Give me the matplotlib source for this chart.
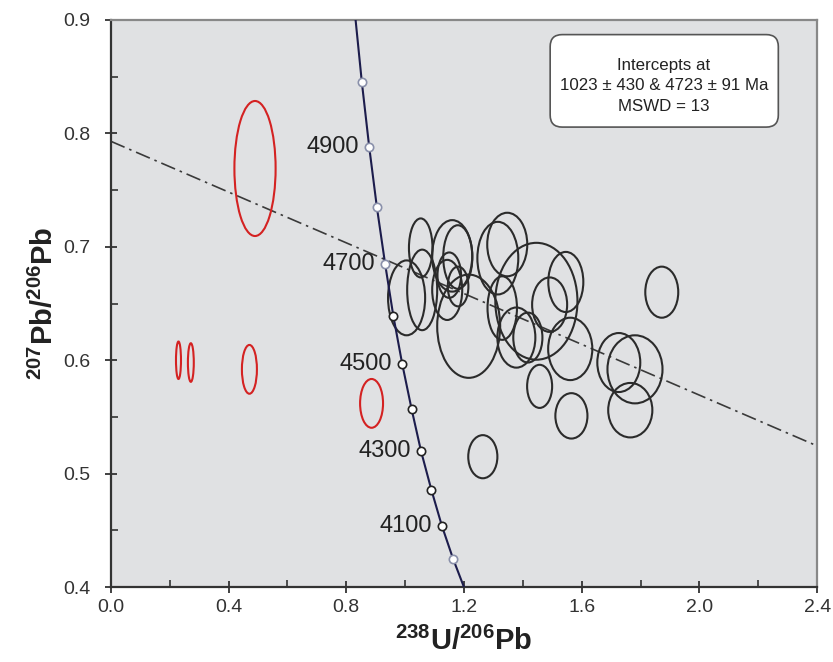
import matplotlib.pyplot as plt
from matplotlib.patches import Ellipse, FancyBboxPatch

# Concordia curve (ages in Ma) in Tera-Wasserburg space
conc_age = [3900, 4000, 4100, 4200, 4300, 4400, 4500, 4600, 4700, 4800, 4900, 5000, 5100]
conc_x = [1.203, 1.163, 1.125, 1.089, 1.054, 1.022, 0.990, 0.960, 0.932, 0.904, 0.878, 0.853, 0.829]
conc_y = [0.398, 0.425, 0.454, 0.486, 0.520, 0.557, 0.597, 0.639, 0.685, 0.735, 0.788, 0.845, 0.907]
marked_ages = [4000, 4100, 4200, 4300, 4400, 4500, 4600, 4700, 4800, 4900, 5000]
labelled_ages = [4100, 4300, 4500, 4700, 4900]

# Discordia line (regression through the data)
disc_x = [0.0, 2.4]
disc_y = [0.793, 0.5245]

# Analyses plotted as error ellipses: centre x, centre y, width, height
red_x = [0.490, 0.230, 0.272, 0.471, 0.886]
red_y = [0.769, 0.600, 0.598, 0.592, 0.562]
red_w = [0.140, 0.017, 0.020, 0.051, 0.078]
red_h = [0.119, 0.033, 0.034, 0.043, 0.043]

blk_x = [1.053, 1.160, 1.179, 1.315, 1.347, 1.446, 1.546, 1.491, 1.561, 1.378, 1.417, 1.330,
         1.457, 1.565, 1.726, 1.781, 1.765, 1.872, 1.264, 1.216, 1.005, 1.058, 1.143, 1.150, 1.180]
blk_y = [0.699, 0.692, 0.691, 0.690, 0.702, 0.652, 0.669, 0.649, 0.610, 0.620, 0.620, 0.646,
         0.577, 0.551, 0.598, 0.592, 0.556, 0.660, 0.515, 0.630, 0.655, 0.662, 0.662, 0.675, 0.665]
blk_w = [0.080, 0.136, 0.099, 0.139, 0.136, 0.279, 0.119, 0.119, 0.150, 0.129, 0.099, 0.100,
         0.085, 0.109, 0.146, 0.187, 0.150, 0.112, 0.099, 0.214, 0.126, 0.102, 0.102, 0.080, 0.070]
blk_h = [0.052, 0.063, 0.056, 0.064, 0.056, 0.103, 0.053, 0.048, 0.055, 0.053, 0.044, 0.056,
         0.038, 0.040, 0.052, 0.060, 0.048, 0.045, 0.038, 0.091, 0.066, 0.071, 0.053, 0.040, 0.035]

box_text = 'Intercepts at\n1023 \u00b1 430 & 4723 \u00b1 91 Ma\nMSWD = 13'

plt.rcParams['font.family'] = ['Liberation Sans', 'DejaVu Sans']
plt.rcParams['mathtext.fontset'] = 'custom'
plt.rcParams['mathtext.rm'] = 'Liberation Sans:bold'
plt.rcParams['mathtext.it'] = 'Liberation Sans:bold'
plt.rcParams['mathtext.bf'] = 'Liberation Sans:bold'

fig = plt.figure(figsize=(8.33, 6.62), dpi=100)
ax = fig.add_axes([0.133, 0.113, 0.848, 0.857])
ax.set_facecolor('#e0e1e3')

# discordia
ax.plot(disc_x, disc_y, color='#3a3a3a', lw=1.2, linestyle=(0, (9, 3, 1.5, 3)), zorder=2)

# ellipses
for x, y, w, h in zip(red_x, red_y, red_w, red_h):
    ax.add_patch(Ellipse((x, y), w, h, fill=False, ec='#d42222', lw=1.5, zorder=3))
for x, y, w, h in zip(blk_x, blk_y, blk_w, blk_h):
    ax.add_patch(Ellipse((x, y), w, h, fill=False, ec='#2b2b2b', lw=1.5, zorder=3))

# concordia
ax.plot(conc_x, conc_y, color='#1c1c4c', lw=1.5, zorder=4)
for a, x, y in zip(conc_age, conc_x, conc_y):
    if a in marked_ages:
        ec = '#222222' if 4100 <= a <= 4600 else '#8a90aa'
        ax.plot(x, y, 'o', ms=6, mfc='white', mec=ec, mew=1.2, zorder=5)
    if a in labelled_ages:
        ax.text(x - 0.035, y, str(a), ha='right', va='center', fontsize=17, color='#222222', zorder=5)

# intercept box
ax.add_patch(FancyBboxPatch((0.622, 0.811), 0.323, 0.163, transform=ax.transAxes,
                            boxstyle='round,pad=0,rounding_size=0.017', mutation_aspect=1.245,
                            fc='white', ec='#555555', lw=1.2, zorder=6))
ax.text(0.783, 0.884, box_text, transform=ax.transAxes, ha='center', va='center',
        fontsize=12.2, linespacing=1.45, color='#222222', zorder=7)

ax.set_xlim(0, 2.4)
ax.set_ylim(0.4, 0.9)
ax.set_xticks([0.0, 0.4, 0.8, 1.2, 1.6, 2.0, 2.4])
ax.set_xticks([0.2, 0.6, 1.0, 1.4, 1.8, 2.2], minor=True)
ax.set_yticks([0.4, 0.5, 0.6, 0.7, 0.8, 0.9])
ax.set_yticks([0.45, 0.55, 0.65, 0.75, 0.85], minor=True)
ax.set_xticklabels(['0.0', '0.4', '0.8', '1.2', '1.6', '2.0', '2.4'])
ax.set_yticklabels(['0.4', '0.5', '0.6', '0.7', '0.8', '0.9'])
ax.tick_params(which='major', direction='inout', length=9, width=1.3, color='#333333',
               labelsize=14, labelcolor='#333333', pad=4)
ax.tick_params(axis='y', which='major', pad=10)
ax.tick_params(which='minor', direction='in', length=5, width=1.2, color='#333333')

for side in ['left', 'bottom']:
    ax.spines[side].set_color('#333333')
    ax.spines[side].set_linewidth(1.6)
for side in ['top', 'right']:
    ax.spines[side].set_color('#888888')
    ax.spines[side].set_linewidth(1.6)

ax.set_xlabel(r'$^{238}$U/$^{206}$Pb', fontsize=21, fontweight='bold', labelpad=8, color='#222222')
ax.set_ylabel(r'$^{207}$Pb/$^{206}$Pb', fontsize=21, fontweight='bold', labelpad=3, color='#222222')

fig.savefig('out.png', dpi=100, facecolor='white')
